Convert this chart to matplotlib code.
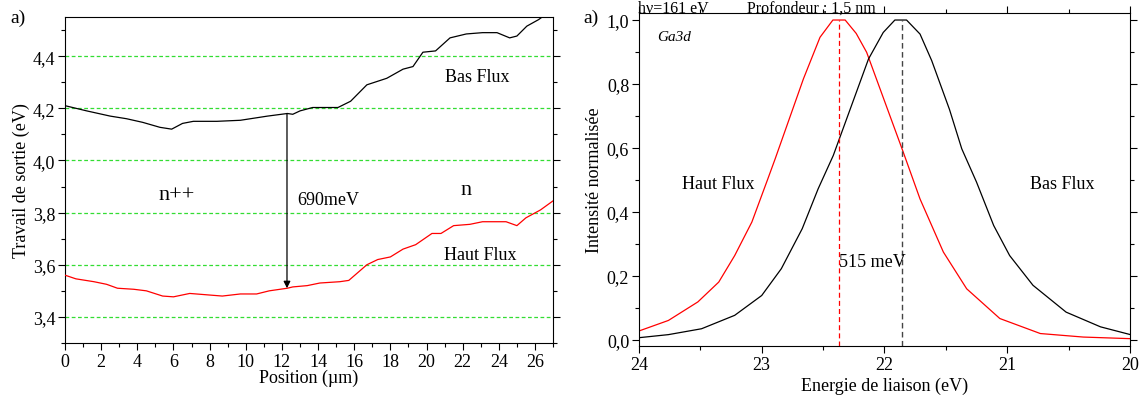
import matplotlib
matplotlib.use("Agg")
import matplotlib.pyplot as plt
from matplotlib.ticker import MultipleLocator, FuncFormatter

plt.rcParams['font.family'] = ['Liberation Serif', 'DejaVu Serif']
plt.rcParams['mathtext.fontset'] = 'stix'

# ---- Left panel data: work function vs position ----
pos_bas = [0, 1.2, 2.5, 3.4, 4.3, 5.25, 5.9, 6.5, 7.1, 8.4, 9.7, 11.2, 12.3, 12.6, 13.0, 13.7,
           15.1, 15.8, 16.7, 17.8, 18.7, 19.25, 19.8, 20.5, 21.3, 22.2, 23.1, 23.9, 24.6, 25.0,
           25.55, 26.2, 26.4, 27.0]
wf_bas = [4.21, 4.19, 4.17, 4.16, 4.146, 4.127, 4.12, 4.142, 4.15, 4.15, 4.154, 4.17, 4.18, 4.177,
          4.19, 4.203, 4.203, 4.227, 4.29, 4.315, 4.35, 4.36, 4.415, 4.42, 4.47, 4.485, 4.49, 4.49,
          4.47, 4.477, 4.515, 4.54, 4.55, 4.58]
pos_haut = [0, 0.6, 1.6, 2.3, 2.9, 3.8, 4.5, 5.4, 6.0, 6.9, 7.8, 8.7, 9.7, 10.6, 11.3, 12.3, 12.6,
            13.4, 14.1, 15.2, 15.7, 16.7, 17.3, 18.0, 18.7, 19.4, 20.3, 20.8, 21.5, 22.4, 23.1,
            24.4, 25.0, 25.5, 26.3, 27.0]
wf_haut = [3.56, 3.546, 3.535, 3.525, 3.51, 3.506, 3.50, 3.48, 3.477, 3.49, 3.485, 3.48, 3.488,
           3.488, 3.50, 3.51, 3.515, 3.52, 3.53, 3.535, 3.54, 3.60, 3.62, 3.63, 3.66, 3.677, 3.72,
           3.72, 3.75, 3.755, 3.765, 3.765, 3.75, 3.78, 3.81, 3.845]
arrow_x = 12.28
arrow_top = 4.18
arrow_bottom = 3.51

# ---- Right panel data: Ga3d spectra ----
e_haut = [24.0, 23.76, 23.52, 23.35, 23.22, 23.08, 22.95, 22.89, 22.66, 22.525, 22.42, 22.32,
          22.23, 22.145, 21.85, 21.71, 21.52, 21.33, 21.06, 20.73, 20.38, 20.0]
i_haut = [0.027, 0.060, 0.118, 0.18, 0.263, 0.368, 0.503, 0.566, 0.816, 0.946, 1.0, 1.0,
          0.958, 0.899, 0.59, 0.44, 0.274, 0.159, 0.066, 0.019, 0.008, 0.003]
e_bas = [24.0, 23.76, 23.49, 23.22, 23.0, 22.84, 22.67, 22.54, 22.417, 22.13, 22.01, 21.915,
         21.82, 21.71, 21.615, 21.47, 21.37, 21.25, 21.11, 20.98, 20.79, 20.52, 20.24, 20.0]
i_bas = [0.006, 0.0156, 0.034, 0.076, 0.138, 0.222, 0.347, 0.472, 0.576, 0.878, 0.961, 1.0,
         1.0, 0.956, 0.873, 0.72, 0.597, 0.493, 0.357, 0.263, 0.17, 0.086, 0.04, 0.016]
peak_haut = 22.37
peak_bas = 21.855

comma = FuncFormatter(lambda v, p: ('%.1f' % v).replace('.', ','))
intfmt = FuncFormatter(lambda v, p: '%d' % round(v))

fig = plt.figure(figsize=(11.41, 4.02), dpi=100)

# ---------------- Left panel ----------------
ax1 = fig.add_axes([0.0570, 0.1443, 0.4277, 0.8109])
for y in [3.4, 3.6, 3.8, 4.0, 4.2, 4.4]:
    ax1.axhline(y, color='#33dd33', lw=0.9, ls=(0, (3, 2)), zorder=1)
ax1.plot(pos_bas, wf_bas, color='black', lw=0.9, zorder=3)
ax1.plot(pos_haut, wf_haut, color='red', lw=0.9, zorder=3)
ax1.annotate('', xy=(arrow_x, arrow_bottom), xytext=(arrow_x, arrow_top),
             arrowprops=dict(arrowstyle='-|>', color='black', lw=0.9,
                             mutation_scale=10, shrinkA=0, shrinkB=0), zorder=4)
ax1.set_xlim(0, 27)
ax1.set_ylim(3.3, 4.55)
ax1.xaxis.set_major_locator(MultipleLocator(2))
ax1.xaxis.set_minor_locator(MultipleLocator(1))
ax1.yaxis.set_major_locator(MultipleLocator(0.2))
ax1.yaxis.set_minor_locator(MultipleLocator(0.1))
ax1.yaxis.set_major_formatter(comma)
ax1.tick_params(which='both', direction='out', labelsize=13, top=True, right=True, pad=2)
ax1.tick_params(which='major', length=5, width=0.8)
ax1.tick_params(which='minor', length=3, width=0.8)
ax1.tick_params(axis='x', which='both', top=False)
ax1.set_xlabel('Position (µm)', fontsize=13, labelpad=-1)
ax1.set_ylabel('Travail de sortie (eV)', fontsize=13, labelpad=2)
ax1.text(22.8, 4.32, 'Bas Flux', fontsize=13, ha='center', va='center')
ax1.text(22.95, 3.64, 'Haut Flux', fontsize=13, ha='center', va='center')
ax1.text(6.2, 3.87, 'n++', fontsize=16, ha='center', va='center')
ax1.text(22.2, 3.89, 'n', fontsize=16, ha='center', va='center')
ax1.text(12.85, 3.85, '690meV', fontsize=13, ha='left', va='center')
fig.text(10 / 1141, 1 - 18 / 402, 'a)', fontsize=14, ha='left', va='center')

# ---------------- Right panel ----------------
ax2 = fig.add_axes([0.5600, 0.1368, 0.4303, 0.8284])
ax2.plot(e_haut, i_haut, color='red', lw=0.9)
ax2.plot(e_bas, i_bas, color='black', lw=0.9)
ax2.plot([peak_haut, peak_haut], [-0.02, 1.0], color='red', lw=0.9, ls=(0, (4, 2.5)))
ax2.plot([peak_bas, peak_bas], [-0.02, 1.0], color='#444444', lw=1.0, ls=(0, (4, 2.5)))
ax2.set_xlim(24, 20)
ax2.set_ylim(-0.02, 1.022)
ax2.xaxis.set_major_locator(MultipleLocator(1))
ax2.xaxis.set_minor_locator(MultipleLocator(0.5))
ax2.xaxis.set_major_formatter(intfmt)
ax2.yaxis.set_major_locator(MultipleLocator(0.2))
ax2.yaxis.set_minor_locator(MultipleLocator(0.1))
ax2.yaxis.set_major_formatter(comma)
ax2.tick_params(which='both', direction='out', labelsize=13, top=True, right=True, pad=2)
ax2.tick_params(which='major', length=5, width=0.8)
ax2.tick_params(which='minor', length=3, width=0.8)
ax2.set_xlabel('Energie de liaison (eV)', fontsize=13, labelpad=3)
ax2.set_ylabel('Intensité normalisée', fontsize=13, labelpad=3)
ax2.text(23.85, 0.95, 'Ga3d', fontsize=11, style='italic', ha='left', va='center')
ax2.text(23.35, 0.49, 'Haut Flux', fontsize=13, ha='center', va='center')
ax2.text(20.55, 0.49, 'Bas Flux', fontsize=13, ha='center', va='center')
ax2.text(22.37, 0.245, '515 meV', fontsize=13, ha='left', va='center')
fig.text(583 / 1141, 1 - 18 / 402, 'a)', fontsize=14, ha='left', va='center')
fig.text(638 / 1141, 1 - 13 / 402, 'hν=161 eV', fontsize=11.5, ha='left', va='baseline')
fig.text(747 / 1141, 1 - 13 / 402, 'Profondeur : 1,5 nm', fontsize=11.5, ha='left', va='baseline')

fig.savefig('out.png', dpi=100)
